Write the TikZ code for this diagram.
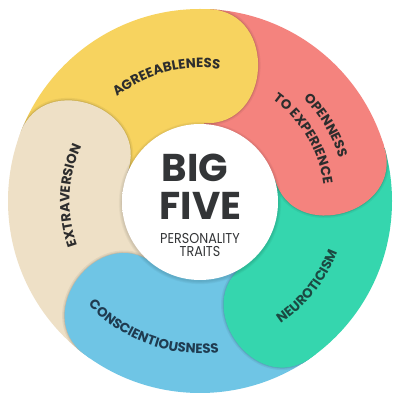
\documentclass[tikz,border=0pt]{standalone}
\usepackage{fontspec}
\setmainfont{Poppins}
\usetikzlibrary{calc,decorations.text}
\definecolor{cyel}{HTML}{F7D35F}
\definecolor{cpink}{HTML}{F4837E}
\definecolor{cgreen}{HTML}{35D6AE}
\definecolor{cblue}{HTML}{6FC5E5}
\definecolor{cbeige}{HTML}{EEE0C6}
\definecolor{ctxt}{HTML}{2D2D2D}
\definecolor{cneu}{HTML}{1B4A42}
\definecolor{ccon}{HTML}{1F3B50}
\definecolor{chub}{HTML}{333537}
\pgfdeclareradialshading{wball}{\pgfpoint{0bp}{0bp}}{color(0bp)=(white); color(30bp)=(white); color(44bp)=(gray!12); color(50bp)=(gray!32)}
\newcommand\lblfont{\bfseries\fontsize{13.4}{13}\selectfont}
% body overlaps 3 degrees under the next segment to avoid seams
\newcommand\segbody[3]{%
  \fill[#1] ($(C)+(#2:195pt)$) arc[start angle=#2,end angle=#3-3,radius=195pt]
     -- ($(C)+(#3-3:60pt)$) arc[start angle=#3-3,end angle=#2,radius=60pt] -- cycle;}
\newcommand\capcurve[1]{($(C)+(#1:192pt)$) .. controls ($(C)+(#1:192pt)+(#1-90:68pt)$) and ($(C)+(#1:78pt)+(#1-90:68pt)$) .. ($(C)+(#1:78pt)$)}
\newcommand\segcap[2]{%
  \begin{scope}
    \clip (C) -- ($(C)+(#2:300pt)$) arc[start angle=#2,end angle=#2-70,radius=300pt] -- cycle;
    \draw[black,opacity=0.05,line width=5pt] \capcurve{#2};
    \draw[black,opacity=0.06,line width=2.5pt] \capcurve{#2};
    \draw[black,opacity=0.08,line width=1pt] \capcurve{#2};
  \end{scope}
  \fill[#1] ($(C)+(#2+2:195pt)$) -- \capcurve{#2} -- ($(C)+(#2+2:70pt)$) -- cycle;}
\begin{document}
\begin{tikzpicture}
\useasboundingbox (0,0) rectangle (400pt,401pt);
\fill[white] (0,0) rectangle (400pt,401pt);
\coordinate (C) at (200pt,200pt);
\begin{scope}
  \clip (C) circle[radius=192pt];
  \segbody{cyel}{159}{87}
  \segbody{cpink}{87}{16}
  \segbody{cgreen}{16}{-55}
  \segbody{cblue}{-55}{-127}
  \segbody{cbeige}{-127}{-201}
  \segcap{cyel}{87}
  \segcap{cpink}{16}
  \segcap{cgreen}{-55}
  \segcap{cblue}{-127}
  \segcap{cbeige}{159}
\end{scope}
% hub
\foreach \k in {1,...,4}{\fill[black,opacity=0.03] (200pt,198pt) circle[radius=78pt+\k*0.8pt];}
\node[circle,inner sep=0pt,minimum size=156pt,shading=wball] (hub) at (200pt,199pt) {};
\node[anchor=base west,inner sep=0pt,text=chub,font=\bfseries\fontsize{38.7}{40}\selectfont] (big) at (161.5pt,219.3pt) {BIG};
\node[anchor=base west,inner sep=0pt,text=chub,font=\bfseries\fontsize{38.7}{40}\selectfont] (five) at (159.5pt,181pt) {FIVE};
\node[anchor=base,inner sep=0pt,text=chub,font=\fontsize{14.3}{15}\selectfont] (pers) at (200pt,157pt) {\scalebox{0.89}[1]{PERSONALITY}};
\node[anchor=base,inner sep=0pt,text=chub,font=\fontsize{14.3}{15}\selectfont] (traits) at (200pt,144pt) {\scalebox{0.89}[1]{TRAITS}};
% curved labels
\path[decorate,decoration={text along path,text={|\lblfont|AGREEABLENESS},text align=center,text color=ctxt}]
  ($(C)+(145:133pt)$) arc[start angle=145,end angle=65,radius=133pt];
\path[decorate,decoration={text along path,text={|\lblfont|OPENNESS},text align=center,text color=ctxt}]
  ($(C)+(71:145.5pt)$) arc[start angle=71,end angle=-9,radius=145.5pt];
\path[decorate,decoration={text along path,text={|\lblfont|TO EXPERIENCE},text align=center,text color=ctxt}]
  ($(C)+(71:124.5pt)$) arc[start angle=71,end angle=-9,radius=124.5pt];
\path[decorate,decoration={text along path,text={|\lblfont|NEUROTICISM},text align=center,text color=cneu}]
  ($(C)+(-78.5:146.5pt)$) arc[start angle=-78.5,end angle=1.5,radius=146.5pt];
\path[decorate,decoration={text along path,text={|\lblfont|CONSCIENTIOUSNESS},text align=center,text color=ccon}]
  ($(C)+(205:152.5pt)$) arc[start angle=205,end angle=295,radius=152.5pt];
\path[decorate,decoration={text along path,text={|\lblfont|EXTRAVERSION},text align=center,text color=ctxt}]
  ($(C)+(217.5:130.5pt)$) arc[start angle=217.5,end angle=137.5,radius=130.5pt];
\end{tikzpicture}
\end{document}
